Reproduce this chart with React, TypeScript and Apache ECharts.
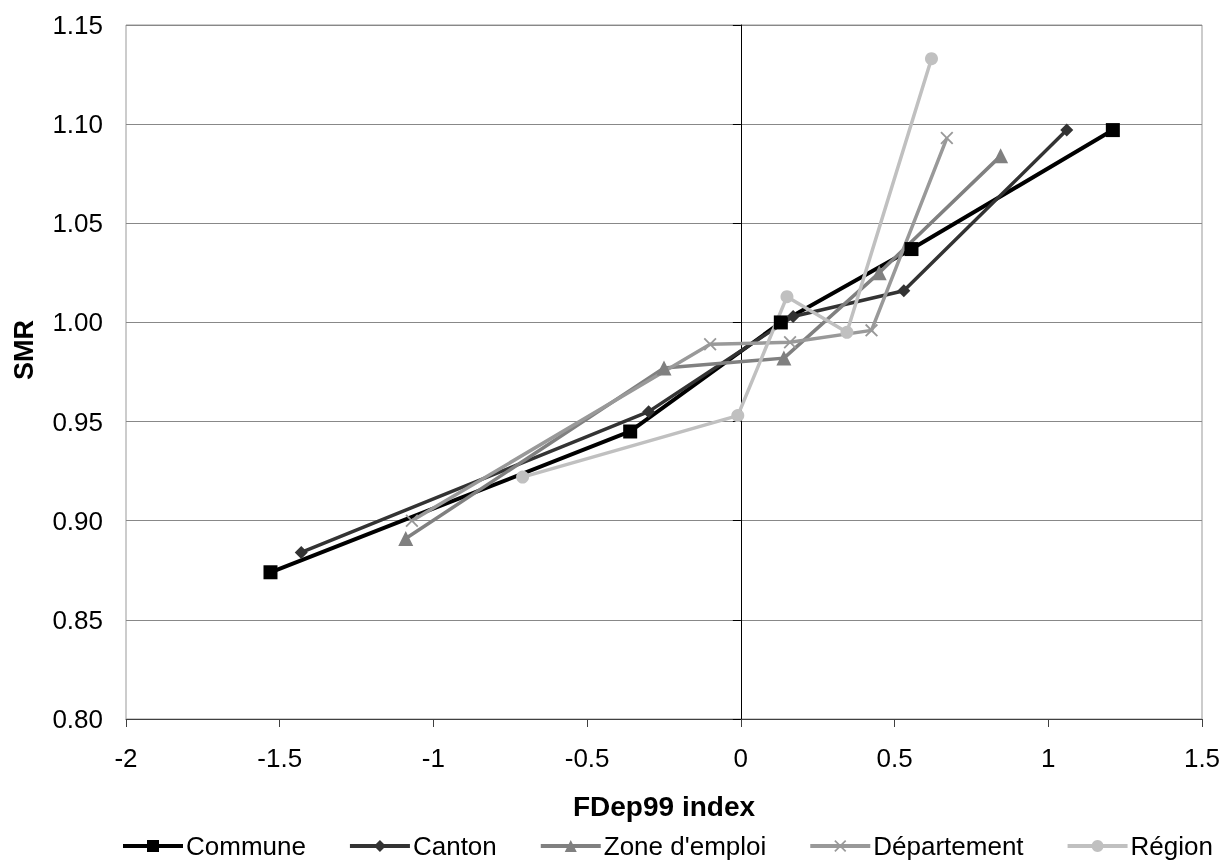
import React, { useEffect, useRef } from "react";
import * as echarts from "echarts";

const seriesNames = ["Commune", "Canton", "Zone d'emploi", "Département", "Région"];
const communeData = [[-1.53, 0.874], [-0.36, 0.945], [0.13, 1.0], [0.555, 1.037], [1.21, 1.097]];
const cantonData = [[-1.43, 0.884], [-0.30, 0.955], [0.17, 1.003], [0.53, 1.016], [1.06, 1.097]];
const zoneData = [[-1.09, 0.891], [-0.25, 0.977], [0.14, 0.982], [0.45, 1.025], [0.845, 1.084]];
const departementData = [[-1.07, 0.9], [-0.10, 0.989], [0.16, 0.99], [0.425, 0.996], [0.67, 1.093]];
const regionData = [[-0.71, 0.922], [-0.01, 0.953], [0.15, 1.013], [0.345, 0.995], [0.62, 1.133]];

const FONT = '"Liberation Sans", Arial, sans-serif';
const CROSS = "path://M1,0L5,4L9,0L10,1L6,5L10,9L9,10L5,6L1,10L0,9L4,5L0,1Z";

export default function App() {
  const ref = useRef<HTMLDivElement>(null);
  useEffect(() => {
    if (!ref.current) return;
    const chart = echarts.init(ref.current, undefined, { renderer: "svg" });
    const mk = (name: string, data: number[][], color: string, symbol: string, size: number, width: number) => ({
      name,
      type: "line",
      data,
      symbol,
      symbolSize: size,
      showSymbol: true,
      itemStyle: { color },
      lineStyle: { color, width },
      emphasis: { disabled: true },
      z: 3,
    });
    chart.setOption({
      animation: false,
      textStyle: { fontFamily: FONT },
      grid: { left: 126, right: 29, top: 25, bottom: 145, show: true, borderColor: "#999", borderWidth: 1 },
      xAxis: {
        type: "value",
        min: -2,
        max: 1.5,
        interval: 0.5,
        axisLine: { show: true, onZero: false, lineStyle: { color: "#404040", width: 1 } },
        axisTick: { show: true, length: 8, lineStyle: { color: "#404040" } },
        splitLine: { show: false },
        axisLabel: { fontSize: 26, color: "#000", margin: 26, fontFamily: FONT },
        name: "FDep99 index",
        nameLocation: "middle",
        nameGap: 73,
        nameTextStyle: { fontSize: 28, fontWeight: "bold", color: "#000", fontFamily: FONT },
      },
      yAxis: [
        {
          type: "value",
          min: 0.8,
          max: 1.15,
          interval: 0.05,
          position: "left",
          axisLine: { show: true, onZero: true, lineStyle: { color: "#000", width: 1 } },
          axisTick: { show: true, length: 8, lineStyle: { color: "#000" } },
          axisLabel: { show: false },
          splitLine: { show: true, lineStyle: { color: "#888", width: 1 } },
        },
        {
          type: "value",
          min: 0.8,
          max: 1.15,
          interval: 0.05,
          position: "left",
          axisLine: { show: false, onZero: false },
          axisTick: { show: false },
          splitLine: { show: false },
          axisLabel: {
            fontSize: 26,
            color: "#000",
            margin: 23,
            fontFamily: FONT,
            formatter: (v: number) => v.toFixed(2),
          },
        },
      ],
      legend: {
        data: seriesNames,
        left: 116,
        top: 827,
        itemWidth: 60,
        itemHeight: 15,
        itemGap: 42,
        lineStyle: { width: 4 },
        textStyle: { fontSize: 26, color: "#000", fontFamily: FONT, lineHeight: 28, padding: [0, 0, 0, -2] },
      },
      graphic: [
        {
          type: "text",
          x: 24,
          y: 350,
          rotation: Math.PI / 2,
          style: {
            text: "SMR",
            font: `bold 27px ${FONT}`,
            fill: "#000",
            textAlign: "center",
            textVerticalAlign: "middle",
          },
        },
      ],
      series: [
        mk(seriesNames[0], communeData, "#000000", "rect", 14, 4),
        mk(seriesNames[1], cantonData, "#333333", "diamond", 13, 3.5),
        mk(seriesNames[2], zoneData, "#808080", "triangle", 15, 3.5),
        mk(seriesNames[3], departementData, "#999999", CROSS, 13, 3.5),
        mk(seriesNames[4], regionData, "#c0c0c0", "circle", 13, 3.5),
      ],
    });
    return () => chart.dispose();
  }, []);
  return <div ref={ref} style={{ position: "fixed", left: 0, top: 0, width: 1231, height: 864 }} />;
}
